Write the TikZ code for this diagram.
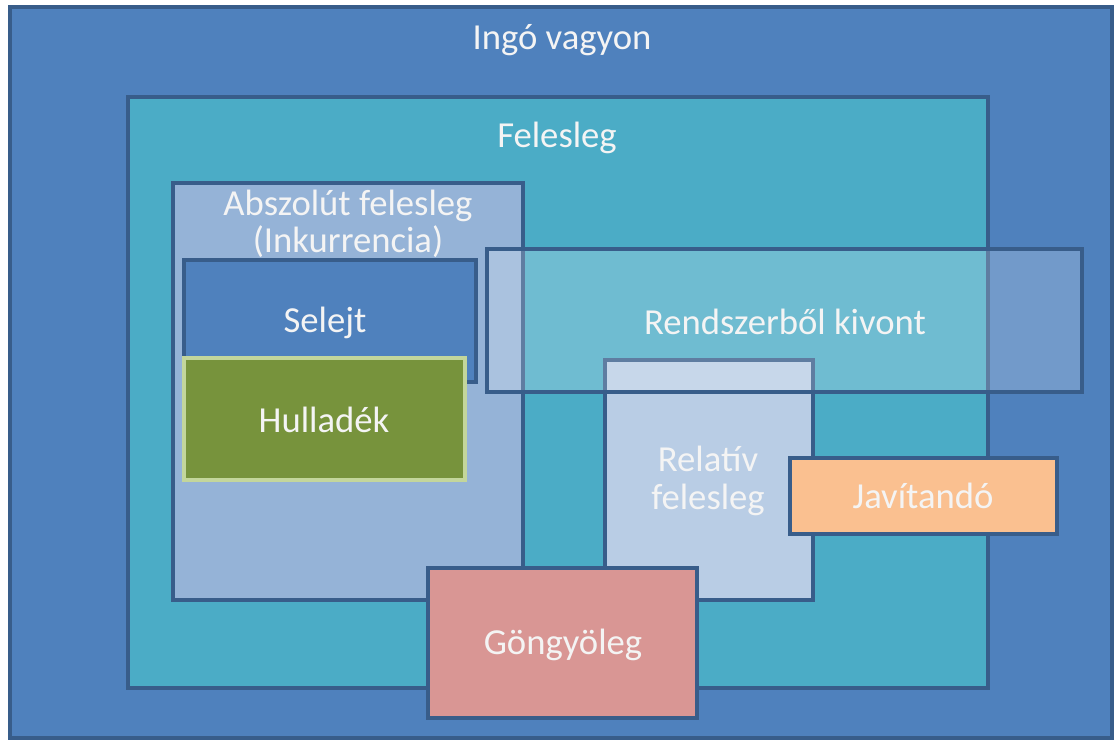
\documentclass[tikz,border=0pt]{standalone}
\usepackage{fontspec}
\setmainfont{Carlito}
\usetikzlibrary{fit}
\definecolor{bordc}{HTML}{385D8A}
\definecolor{outerc}{HTML}{4F81BD}
\definecolor{felc}{HTML}{4BACC6}
\definecolor{absc}{HTML}{95B3D7}
\definecolor{selc}{HTML}{4F81BD}
\definecolor{hullc}{HTML}{77933C}
\definecolor{hullb}{HTML}{C3D69B}
\definecolor{relc}{HTML}{B9CDE5}
\definecolor{javc}{HTML}{FAC090}
\definecolor{gonc}{HTML}{D99694}
\definecolor{txtc}{HTML}{F4F4F4}
\tikzset{
  box/.style={draw=bordc, line width=2.8pt, inner sep=0pt, rectangle},
  txt/.style={text=txtc, font=\fontsize{27.5}{28}\selectfont, align=center, inner sep=0pt}
}
\begin{document}
\begin{tikzpicture}[x=0.75pt,y=-0.75pt]
\useasboundingbox[fill=white] (0,0) rectangle (1115,740);
\node[box, fill=outerc, fit={(10,7) (1112,738)}] (outer) {};
\node[box, fill=felc, fit={(128,97) (988,688)}] (fel) {};
\node[box, fill=absc, fit={(173,183) (523,600)}] (abs) {};
\node[box, fill=selc, fit={(184,260) (476,382)}] (sel) {};
\node[box, fill=hullc, draw=hullb, fit={(184,358) (465,480)}] (hull) {};
\node[box, fill=relc, fit={(605,360) (813,600)}] (rel) {};
\node[box, fill=white, fill opacity=0.2, fit={(487,249) (1082,392)}] (rend) {};
\node[box, fill=javc, fit={(790,458) (1057,534)}] (jav) {};
\node[box, fill=gonc, fit={(428,568) (697,718)}] (gon) {};
\node[txt] (toutr) at (562,40) {Ingó vagyon};
\node[txt] (tfel) at (557,138) {Felesleg};
\node[txt] (tabs) at (348,224) {Abszolút felesleg\\(Inkurrencia)};
\node[txt] (tsel) at (325,323) {Selejt};
\node[txt] (thull) at (324,420) {Hulladék};
\node[txt] (trend) at (785,322) {Rendszerből kivont};
\node[txt] (trel) at (708,481) {Relatív\\felesleg};
\node[txt] (tjav) at (923,496) {Javítandó};
\node[txt] (tgon) at (563,645) {Göngyöleg};
\end{tikzpicture}
\end{document}
